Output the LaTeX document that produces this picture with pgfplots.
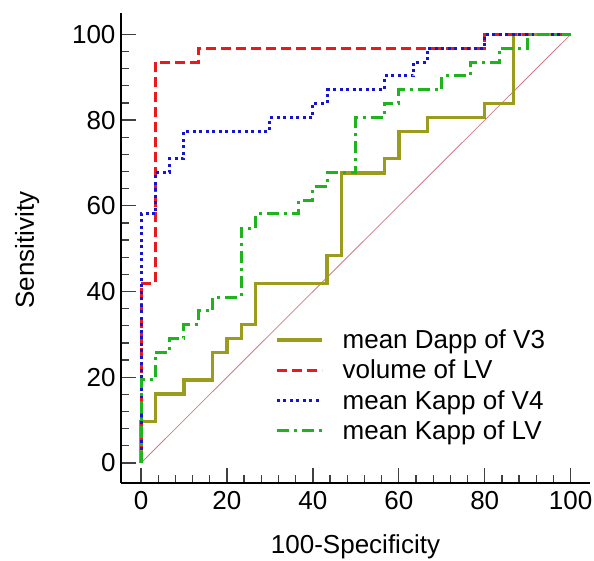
\documentclass[border=0pt]{standalone}
\usepackage{fontspec}
\setmainfont{Liberation Sans}
\usepackage{pgfplots}
\pgfplotsset{compat=1.18}
\definecolor{cred}{RGB}{235,25,25}
\definecolor{cblue}{RGB}{20,20,215}
\definecolor{cgreen}{RGB}{30,180,30}
\definecolor{colive}{RGB}{155,155,30}
\definecolor{cdiag}{RGB}{205,125,135}
\begin{document}
\begin{tikzpicture}
\useasboundingbox (-121pt,-78pt) rectangle (473pt,483pt);
\begin{axis}[
  scale only axis,
  width=469pt, height=470pt,
  xmin=-4.66, xmax=104.5, ymin=-4.67, ymax=105,
  axis x line*=bottom, axis y line*=left,
  axis line style={-, line width=2.6pt, black},
  xtick={0,20,...,100}, ytick={0,20,...,100},
  minor tick num=4,
  tick align=inside,
  major tick length=15pt, minor tick length=8pt,
  tick style={line width=1.3pt, black!75},
  /pgf/number format/assume math mode=true,
  font=\fontsize{26}{31}\selectfont,
  tick label style={font=\fontsize{26}{31}\selectfont},
  xticklabel style={yshift=-5pt},
  yticklabel style={xshift=-2pt},
  xlabel={100-Specificity},
  ylabel={Sensitivity},
  xlabel style={at={(axis description cs:0.5,-0.151)}, anchor=base},
  ylabel style={at={(axis description cs:-0.200,0.496)}, anchor=center},
  clip=false,
  legend cell align=left,
  legend style={draw=none, fill=none, at={(axis cs:31.2,31.6)}, anchor=north west,
    font=\fontsize{26}{31}\selectfont, inner sep=0pt, row sep=6pt,
    /tikz/every odd column/.append style={column sep=17pt}},
  legend image code/.code={\draw[#1] (0pt,0pt) -- (45pt,0pt);},
]
\addplot[cdiag, line width=0.8pt, forget plot] coordinates {(0,0) (100,100)};
\addplot[colive, line width=3.4pt] coordinates {
(0,0)(0,9.68)(3.33,9.68)(3.33,16.1)(10,16.1)(10,19.4)(16.67,19.4)(16.67,25.8)(20,25.8)(20,29.0)(23.33,29.0)(23.33,32.3)(26.67,32.3)(26.67,41.9)(43.33,41.9)(43.33,48.4)(46.67,48.4)(46.67,67.7)(56.67,67.7)(56.67,71.0)(60,71.0)(60,77.4)(66.67,77.4)(66.67,80.6)(80,80.6)(80,83.9)(86.67,83.9)(86.67,100)(100,100)};
\addlegendentry{mean Dapp of V3}
\addplot[cred, line width=3pt, dash pattern=on 10pt off 5pt] coordinates {
(0,0)(0,41.9)(3.33,41.9)(3.33,93.5)(13.33,93.5)(13.33,96.8)(80,96.8)(80,100)(100,100)};
\addlegendentry{volume of LV}
\addplot[cblue, line width=3pt, dash pattern=on 3pt off 3.5pt] coordinates {
(0,0)(0,58.1)(3.33,58.1)(3.33,67.7)(6.67,67.7)(6.67,71.0)(10,71.0)(10,77.4)(30,77.4)(30,80.6)(40,80.6)(40,83.9)(43.33,83.9)(43.33,87.1)(56.67,87.1)(56.67,90.3)(63.33,90.3)(63.33,93.5)(66.67,93.5)(66.67,96.8)(80,96.8)(80,100)(100,100)};
\addlegendentry{mean Kapp of V4}
\addplot[cgreen, line width=3pt, dash pattern=on 12pt off 5pt on 3pt off 5pt] coordinates {
(0,0)(0,19.4)(3.33,19.4)(3.33,25.8)(6.67,25.8)(6.67,29.0)(10,29.0)(10,32.3)(13.33,32.3)(13.33,35.5)(16.67,35.5)(16.67,38.7)(23.33,38.7)(23.33,54.8)(26.67,54.8)(26.67,58.1)(36.67,58.1)(36.67,61.3)(40,61.3)(40,64.5)(43.33,64.5)(43.33,67.7)(50,67.7)(50,80.6)(56.67,80.6)(56.67,83.9)(60,83.9)(60,87.1)(70,87.1)(70,90.3)(76.67,90.3)(76.67,93.5)(83.33,93.5)(83.33,96.8)(90,96.8)(90,100)(100,100)};
\addlegendentry{mean Kapp of LV}
\end{axis}
\end{tikzpicture}
\end{document}
